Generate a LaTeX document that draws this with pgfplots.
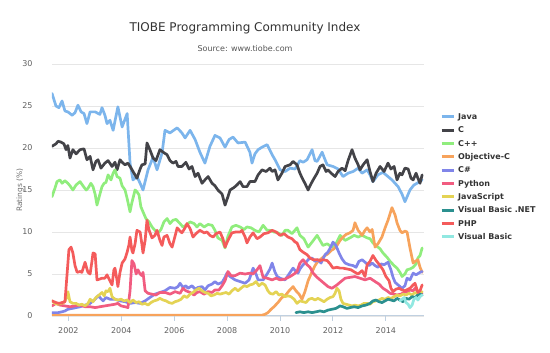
\documentclass[border=0pt]{standalone}
\usepackage{pgfplots}
\pgfplotsset{compat=1.18}
\usepackage{fontspec}
\setmainfont{DejaVu Sans}
\definecolor{cjava}{HTML}{7CB5EC}
\definecolor{cc}{HTML}{434348}
\definecolor{ccpp}{HTML}{90ED7D}
\definecolor{cobjc}{HTML}{F7A35C}
\definecolor{ccs}{HTML}{8085E9}
\definecolor{cpy}{HTML}{F15C80}
\definecolor{cjs}{HTML}{E4D354}
\definecolor{cvbnet}{HTML}{2B908F}
\definecolor{cphp}{HTML}{F45B5B}
\definecolor{cvb}{HTML}{91E8E1}
\definecolor{gridc}{HTML}{E6E6E6}
\definecolor{axisc}{HTML}{C0D0E0}
\definecolor{tickc}{HTML}{606060}
\definecolor{titlec}{HTML}{333333}
\definecolor{subc}{HTML}{555555}
\definecolor{labc}{HTML}{707070}
\begin{document}
\begin{tikzpicture}
\path[use as bounding box] (0pt,0pt) rectangle (550pt,353pt);
\begin{axis}[
  at={(52pt,37pt)}, anchor=south west,
  scale only axis, width=372pt, height=252pt,
  xmin=2001.38, xmax=2015.44, ymin=0, ymax=30,
  xtick={2002,2004,2006,2008,2010,2012,2014},
  ytick={0,5,10,15,20,25,30},
  axis x line*=bottom, axis y line*=left,
  y axis line style={draw=none},
  x axis line style={draw=axisc, line width=1pt},
  tick align=outside, major tick length=5pt,
  xtick style={draw=axisc, line width=1pt},
  ytick style={draw=none},
  ymajorgrids, major grid style={draw=gridc, line width=0.8pt},
  /pgf/number format/assume math mode=true,
  /pgf/number format/1000 sep={},
  tick label style={font=\fontsize{8}{9.6}\selectfont, text=tickc},
  xticklabel style={yshift=-3pt},
  yticklabel style={xshift=-11pt},
  ylabel={Ratings (\%)},
  ylabel style={at={(axis description cs:-0.086,0.5)}, anchor=center, font=\fontsize{7.5}{9}\selectfont, text=labc},
  every axis plot/.append style={line width=2.7pt, line join=round, line cap=round, mark=none},
  legend cell align=left,
  legend style={at={(axis description cs:1.043,0.804)}, anchor=north west, draw=none, fill=none, inner sep=0pt, row sep=5.83pt, column sep=3pt, font=\fontsize{8}{9.6}\selectfont\bfseries, text=titlec, nodes={inner sep=0pt, text height=6pt, text depth=1.5pt}},
  legend image code/.code={\draw[#1, line width=3pt, line cap=butt] (0pt,0.5pt) -- (12pt,0.5pt);},
]
% Java
\addplot[cjava] coordinates {(2001.38,26.5)(2001.53,25.0)(2001.64,24.8)(2001.76,25.6)(2001.87,24.4)(2001.98,24.3)(2002.14,23.9)(2002.25,24.2)(2002.36,25.1)(2002.48,24.3)(2002.59,24.1)(2002.70,22.9)(2002.82,24.3)(2003.01,24.3)(2003.19,24.0)(2003.27,24.8)(2003.38,23.9)(2003.46,22.9)(2003.57,23.3)(2003.69,22.1)(2003.87,24.9)(2004.03,22.5)(2004.22,24.1)(2004.33,18.2)(2004.44,16.2)(2004.59,16.6)(2004.71,15.8)(2004.82,15.0)(2005.01,17.4)(2005.20,18.9)(2005.35,17.4)(2005.54,19.4)(2005.65,22.1)(2005.84,21.8)(2006.11,22.4)(2006.29,21.8)(2006.41,21.2)(2006.60,22.1)(2006.79,21.0)(2006.97,19.5)(2007.16,18.2)(2007.35,20.2)(2007.54,21.5)(2007.73,21.2)(2007.92,20.1)(2008.07,21.0)(2008.22,21.3)(2008.41,20.6)(2008.68,20.7)(2008.86,19.5)(2008.94,18.2)(2009.05,19.3)(2009.17,19.8)(2009.32,20.1)(2009.51,20.4)(2009.70,19.2)(2009.81,18.6)(2010.00,17.4)(2010.19,17.2)(2010.38,17.6)(2010.57,17.5)(2010.75,18.5)(2010.87,18.3)(2011.02,18.6)(2011.21,19.8)(2011.32,18.5)(2011.40,18.4)(2011.59,19.5)(2011.70,18.6)(2011.78,18.0)(2012.00,17.8)(2012.19,17.5)(2012.38,16.6)(2012.57,17.0)(2012.76,17.2)(2012.95,17.6)(2013.10,17.0)(2013.29,17.4)(2013.40,16.8)(2013.51,16.0)(2013.70,16.8)(2013.89,17.1)(2014.08,16.6)(2014.23,16.2)(2014.46,15.4)(2014.61,14.5)(2014.72,13.6)(2014.91,15.0)(2015.06,15.6)(2015.18,15.8)(2015.37,16.2)};
\addlegendentry{Java}
% C
\addplot[cc] coordinates {(2001.38,20.2)(2001.53,20.5)(2001.61,20.8)(2001.72,20.7)(2001.83,20.5)(2001.91,19.8)(2001.98,20.3)(2002.06,18.8)(2002.17,19.8)(2002.29,19.3)(2002.44,19.8)(2002.59,19.9)(2002.70,18.6)(2002.82,19.0)(2002.93,17.4)(2003.04,18.4)(2003.12,18.6)(2003.23,17.6)(2003.38,18.2)(2003.50,18.5)(2003.65,17.8)(2003.76,18.3)(2003.84,17.4)(2003.95,18.6)(2004.03,18.3)(2004.14,18.0)(2004.25,18.2)(2004.37,17.6)(2004.48,17.0)(2004.59,16.4)(2004.71,17.5)(2004.78,18.0)(2004.90,18.1)(2004.97,20.6)(2005.08,19.8)(2005.20,18.8)(2005.31,18.5)(2005.46,19.8)(2005.58,19.5)(2005.73,19.2)(2005.84,18.5)(2005.95,18.2)(2006.07,18.4)(2006.14,17.8)(2006.29,17.8)(2006.44,18.3)(2006.56,17.5)(2006.67,17.8)(2006.79,16.6)(2006.90,17.0)(2007.05,15.8)(2007.16,16.2)(2007.28,16.6)(2007.43,15.8)(2007.54,15.5)(2007.65,15.0)(2007.81,14.5)(2007.92,13.2)(2008.03,14.2)(2008.11,15.0)(2008.26,15.3)(2008.37,15.6)(2008.49,16.0)(2008.60,15.4)(2008.75,15.4)(2008.86,16.0)(2009.05,16.0)(2009.17,16.8)(2009.32,17.4)(2009.47,17.2)(2009.62,17.6)(2009.70,17.2)(2009.81,17.4)(2009.92,16.2)(2010.07,17.0)(2010.19,17.8)(2010.38,18.0)(2010.49,18.4)(2010.64,18.0)(2010.75,17.0)(2010.87,16.2)(2010.94,15.8)(2011.06,15.0)(2011.13,15.5)(2011.25,16.2)(2011.40,17.0)(2011.51,17.8)(2011.62,18.0)(2011.74,17.2)(2011.81,17.4)(2011.93,17.0)(2012.08,16.6)(2012.19,17.2)(2012.34,17.6)(2012.46,17.3)(2012.57,18.5)(2012.72,19.8)(2012.83,18.8)(2012.95,18.0)(2013.02,17.4)(2013.14,18.0)(2013.29,18.6)(2013.40,17.2)(2013.51,16.0)(2013.63,17.0)(2013.78,17.8)(2013.93,17.2)(2014.08,18.2)(2014.19,17.5)(2014.31,17.8)(2014.42,16.2)(2014.53,17.0)(2014.61,16.8)(2014.72,17.6)(2014.84,17.5)(2014.95,16.4)(2015.03,16.2)(2015.14,17.0)(2015.21,16.4)(2015.29,15.8)(2015.37,16.8)};
\addlegendentry{C}
% C++
\addplot[ccpp] coordinates {(2001.38,14.2)(2001.49,15.2)(2001.57,16.0)(2001.68,16.2)(2001.76,15.8)(2001.87,16.1)(2001.98,15.8)(2002.06,15.5)(2002.17,15.0)(2002.29,15.6)(2002.44,16.0)(2002.55,15.5)(2002.67,15.0)(2002.74,15.2)(2002.85,15.8)(2002.93,15.4)(2003.01,14.5)(2003.08,13.2)(2003.19,14.5)(2003.27,15.4)(2003.35,15.8)(2003.42,15.9)(2003.50,16.8)(2003.61,16.2)(2003.69,17.0)(2003.76,17.4)(2003.84,16.6)(2003.95,16.4)(2004.03,15.5)(2004.14,15.0)(2004.22,14.0)(2004.33,12.4)(2004.40,13.5)(2004.52,15.0)(2004.59,14.8)(2004.67,14.4)(2004.74,13.0)(2004.82,12.4)(2004.93,11.6)(2005.05,11.2)(2005.16,10.6)(2005.27,10.2)(2005.39,9.9)(2005.50,10.3)(2005.61,11.2)(2005.73,11.6)(2005.84,11.0)(2005.95,11.4)(2006.07,11.5)(2006.22,11.0)(2006.33,10.6)(2006.44,10.8)(2006.60,11.2)(2006.75,11.0)(2006.86,10.6)(2006.97,11.0)(2007.13,10.6)(2007.28,10.9)(2007.43,10.8)(2007.54,10.2)(2007.65,9.3)(2007.81,9.0)(2007.92,8.1)(2008.03,9.5)(2008.18,10.6)(2008.33,10.8)(2008.49,10.6)(2008.64,10.3)(2008.75,10.6)(2008.90,10.5)(2009.05,10.2)(2009.20,10.0)(2009.36,10.8)(2009.51,10.2)(2009.62,10.2)(2009.77,10.0)(2009.92,9.9)(2010.07,9.6)(2010.19,10.2)(2010.30,10.2)(2010.45,9.8)(2010.64,10.5)(2010.75,9.6)(2010.90,9.2)(2011.06,8.2)(2011.21,8.8)(2011.40,9.6)(2011.51,9.0)(2011.62,8.4)(2011.78,8.6)(2011.96,8.2)(2012.11,8.6)(2012.27,9.6)(2012.46,9.0)(2012.64,9.3)(2012.80,9.6)(2012.95,9.4)(2013.10,9.6)(2013.29,9.3)(2013.40,9.2)(2013.51,8.7)(2013.66,8.3)(2013.78,8.0)(2013.89,7.5)(2014.04,7.0)(2014.16,6.5)(2014.31,6.0)(2014.42,5.7)(2014.53,5.2)(2014.61,4.7)(2014.72,5.0)(2014.80,5.5)(2014.91,5.6)(2015.03,5.8)(2015.14,6.2)(2015.21,6.9)(2015.29,7.2)(2015.37,8.1)};
\addlegendentry{C++}
% Objective-C
\addplot[cobjc] coordinates {(2001.38,0.1)(2009.32,0.1)(2009.43,0.2)(2009.54,0.4)(2009.66,0.8)(2009.77,1.1)(2009.92,1.6)(2010.07,2.2)(2010.19,2.4)(2010.34,3.0)(2010.49,3.5)(2010.60,3.0)(2010.72,2.6)(2010.83,2.0)(2010.94,2.9)(2011.06,4.2)(2011.17,5.0)(2011.32,6.0)(2011.43,6.5)(2011.55,6.8)(2011.70,7.2)(2011.81,7.4)(2011.93,7.8)(2012.04,8.0)(2012.15,8.4)(2012.27,9.0)(2012.38,9.4)(2012.49,9.7)(2012.64,9.9)(2012.76,10.2)(2012.83,11.1)(2012.95,10.2)(2013.10,9.6)(2013.21,10.2)(2013.29,10.5)(2013.40,10.0)(2013.48,10.3)(2013.59,8.2)(2013.70,8.6)(2013.85,9.4)(2013.97,10.5)(2014.08,11.4)(2014.23,12.9)(2014.35,12.0)(2014.42,11.1)(2014.53,10.2)(2014.61,9.9)(2014.72,10.1)(2014.80,10.0)(2014.91,8.1)(2015.03,6.3)(2015.10,6.5)(2015.21,6.7)(2015.29,5.8)(2015.37,5.2)};
\addlegendentry{Objective-C}
% C#
\addplot[ccs] coordinates {(2001.38,0.4)(2001.61,0.4)(2001.76,0.5)(2001.87,0.6)(2001.98,0.8)(2002.14,0.9)(2002.29,1.0)(2002.44,1.1)(2002.63,1.3)(2002.82,1.5)(2003.01,2.0)(2003.12,2.4)(2003.19,2.2)(2003.31,1.8)(2003.42,2.2)(2003.57,2.0)(2003.76,2.0)(2003.95,1.8)(2004.14,1.7)(2004.33,1.5)(2004.52,1.6)(2004.71,1.5)(2004.90,1.8)(2005.08,2.2)(2005.27,2.6)(2005.46,2.8)(2005.65,3.0)(2005.84,3.4)(2006.03,3.3)(2006.14,3.5)(2006.22,3.9)(2006.33,3.4)(2006.44,3.6)(2006.52,3.3)(2006.67,3.6)(2006.79,3.2)(2006.90,3.4)(2007.05,3.5)(2007.16,3.1)(2007.28,3.6)(2007.43,3.8)(2007.54,4.1)(2007.65,3.8)(2007.81,4.0)(2007.92,4.6)(2007.99,5.1)(2008.11,4.7)(2008.30,4.3)(2008.49,4.1)(2008.68,3.9)(2008.83,4.3)(2008.98,5.7)(2009.09,5.0)(2009.17,4.3)(2009.36,4.3)(2009.51,5.0)(2009.62,5.6)(2009.70,6.3)(2009.81,5.2)(2009.89,4.7)(2010.00,4.5)(2010.19,4.3)(2010.34,5.0)(2010.49,5.7)(2010.60,5.3)(2010.68,5.1)(2010.75,5.6)(2010.87,6.1)(2010.98,6.4)(2011.09,6.8)(2011.21,6.9)(2011.32,6.5)(2011.43,6.7)(2011.55,6.3)(2011.70,7.3)(2011.81,7.6)(2011.93,8.3)(2012.00,8.8)(2012.11,8.4)(2012.23,7.5)(2012.34,6.8)(2012.46,6.3)(2012.61,6.1)(2012.76,6.0)(2012.87,5.8)(2012.98,6.5)(2013.10,6.7)(2013.25,6.3)(2013.36,6.0)(2013.48,6.3)(2013.59,6.0)(2013.70,5.8)(2013.82,6.2)(2013.93,6.1)(2014.08,6.4)(2014.19,5.5)(2014.27,4.6)(2014.35,4.0)(2014.46,3.7)(2014.61,3.3)(2014.72,3.6)(2014.80,4.5)(2014.91,4.3)(2015.03,5.1)(2015.14,4.9)(2015.29,5.2)(2015.37,5.3)};
\addlegendentry{C\#}
% Python
\addplot[cpy] coordinates {(2001.38,1.2)(2001.53,1.5)(2001.68,1.3)(2001.87,1.2)(2002.06,1.1)(2002.25,1.2)(2002.44,1.3)(2002.63,1.1)(2002.82,1.1)(2003.01,1.0)(2003.19,1.1)(2003.38,1.2)(2003.57,1.3)(2003.76,1.4)(2003.87,1.5)(2003.99,1.2)(2004.14,1.1)(2004.25,1.0)(2004.33,3.0)(2004.40,6.6)(2004.48,6.2)(2004.56,5.0)(2004.63,5.5)(2004.71,5.0)(2004.78,4.8)(2004.82,5.2)(2004.90,3.0)(2005.01,2.7)(2005.16,2.6)(2005.31,2.5)(2005.46,2.8)(2005.65,2.8)(2005.84,2.6)(2006.03,2.9)(2006.22,2.7)(2006.33,3.3)(2006.44,3.0)(2006.60,2.8)(2006.75,2.5)(2006.86,2.8)(2006.97,2.9)(2007.13,2.6)(2007.28,2.9)(2007.43,2.8)(2007.54,3.1)(2007.69,3.1)(2007.81,3.6)(2007.92,4.2)(2008.03,5.3)(2008.15,4.8)(2008.30,4.8)(2008.49,5.1)(2008.68,5.0)(2008.86,5.1)(2008.98,5.0)(2009.13,5.5)(2009.24,6.0)(2009.36,4.6)(2009.51,4.5)(2009.70,4.3)(2009.85,4.5)(2010.00,4.3)(2010.19,4.4)(2010.38,4.7)(2010.53,5.0)(2010.64,5.3)(2010.75,6.3)(2010.87,6.7)(2011.02,6.1)(2011.13,5.8)(2011.25,5.1)(2011.40,4.6)(2011.51,4.3)(2011.66,3.9)(2011.81,3.5)(2011.96,3.3)(2012.15,3.7)(2012.30,4.1)(2012.46,4.5)(2012.64,4.6)(2012.83,4.7)(2013.02,4.5)(2013.21,4.3)(2013.40,4.5)(2013.59,4.1)(2013.74,3.8)(2013.89,3.3)(2014.04,3.0)(2014.16,2.7)(2014.31,2.6)(2014.42,2.5)(2014.57,2.6)(2014.69,2.8)(2014.80,2.9)(2014.91,3.1)(2015.03,3.0)(2015.10,3.3)(2015.21,2.9)(2015.29,2.6)(2015.37,2.7)};
\addlegendentry{Python}
% JavaScript
\addplot[cjs] coordinates {(2001.38,1.8)(2001.49,1.5)(2001.61,1.4)(2001.72,1.5)(2001.83,1.6)(2001.91,2.0)(2001.98,2.9)(2002.06,1.7)(2002.17,1.5)(2002.29,1.5)(2002.40,1.3)(2002.51,1.4)(2002.63,1.2)(2002.74,1.5)(2002.82,2.0)(2002.93,1.7)(2003.04,2.2)(2003.16,2.5)(2003.27,2.8)(2003.35,2.4)(2003.42,3.0)(2003.50,2.9)(2003.57,3.3)(2003.65,2.3)(2003.76,2.0)(2003.87,1.9)(2003.99,2.0)(2004.10,1.8)(2004.22,1.9)(2004.33,1.6)(2004.44,1.9)(2004.56,1.6)(2004.67,1.7)(2004.78,1.4)(2004.90,1.5)(2005.01,1.3)(2005.12,1.6)(2005.24,1.8)(2005.35,1.9)(2005.46,2.1)(2005.58,1.9)(2005.69,1.8)(2005.80,1.6)(2005.92,1.5)(2006.03,1.7)(2006.14,1.8)(2006.26,2.0)(2006.37,2.4)(2006.48,2.2)(2006.60,2.6)(2006.71,2.8)(2006.82,3.1)(2006.94,3.3)(2007.05,3.0)(2007.16,2.8)(2007.28,2.7)(2007.39,2.4)(2007.50,2.5)(2007.62,2.7)(2007.73,2.6)(2007.84,2.7)(2007.96,2.8)(2008.07,2.6)(2008.18,3.0)(2008.30,3.3)(2008.41,3.0)(2008.52,3.3)(2008.64,3.6)(2008.75,3.5)(2008.86,3.7)(2008.98,3.8)(2009.09,4.1)(2009.20,3.6)(2009.32,3.9)(2009.43,3.7)(2009.54,3.0)(2009.62,2.7)(2009.73,2.6)(2009.85,2.9)(2009.96,2.5)(2010.07,2.6)(2010.19,2.3)(2010.30,2.4)(2010.41,2.3)(2010.53,2.0)(2010.64,1.5)(2010.75,1.8)(2010.87,1.7)(2010.98,1.6)(2011.09,2.0)(2011.21,2.1)(2011.32,1.9)(2011.43,2.1)(2011.55,1.9)(2011.66,1.7)(2011.78,2.0)(2011.89,2.2)(2012.00,2.3)(2012.08,2.7)(2012.15,3.3)(2012.23,3.0)(2012.30,2.0)(2012.38,1.5)(2012.49,1.4)(2012.61,1.3)(2012.72,1.2)(2012.83,1.3)(2012.95,1.2)(2013.06,1.3)(2013.17,1.5)(2013.29,1.5)(2013.40,1.4)(2013.51,1.7)(2013.63,1.8)(2013.74,1.9)(2013.85,2.1)(2013.97,2.0)(2014.08,2.2)(2014.19,2.1)(2014.31,2.3)(2014.42,2.5)(2014.53,2.4)(2014.65,2.6)(2014.76,2.5)(2014.87,2.7)(2014.99,2.5)(2015.10,2.8)(2015.21,2.6)(2015.29,2.8)(2015.37,2.9)};
\addlegendentry{JavaScript}
% Visual Basic .NET
\addplot[cvbnet] coordinates {(2010.60,0.4)(2010.75,0.5)(2010.90,0.4)(2011.06,0.5)(2011.21,0.4)(2011.36,0.5)(2011.51,0.6)(2011.66,0.5)(2011.81,0.7)(2011.96,0.8)(2012.11,0.9)(2012.27,1.2)(2012.38,1.1)(2012.53,0.9)(2012.64,1.0)(2012.80,1.1)(2012.95,1.0)(2013.10,1.2)(2013.25,1.3)(2013.40,1.5)(2013.51,1.8)(2013.63,1.9)(2013.74,1.7)(2013.85,1.6)(2013.97,1.8)(2014.08,2.0)(2014.19,1.9)(2014.31,1.8)(2014.42,2.1)(2014.53,1.9)(2014.65,1.7)(2014.76,2.1)(2014.87,2.0)(2014.99,2.3)(2015.10,2.2)(2015.21,2.5)(2015.29,2.6)(2015.37,2.5)};
\addlegendentry{Visual Basic .NET}
% PHP
\addplot[cphp] coordinates {(2001.38,1.8)(2001.53,1.6)(2001.64,1.5)(2001.76,1.6)(2001.87,1.7)(2001.95,5.0)(2002.02,7.9)(2002.10,8.2)(2002.17,7.5)(2002.25,6.0)(2002.33,5.2)(2002.44,5.3)(2002.51,5.2)(2002.59,6.0)(2002.63,6.4)(2002.70,5.6)(2002.74,5.2)(2002.82,5.0)(2002.89,6.5)(2002.93,7.5)(2003.01,7.4)(2003.08,4.3)(2003.19,4.4)(2003.27,4.5)(2003.38,4.5)(2003.46,4.9)(2003.57,4.2)(2003.65,3.7)(2003.72,5.5)(2003.76,5.7)(2003.84,4.2)(2003.87,3.5)(2003.95,5.2)(2004.03,6.3)(2004.14,6.8)(2004.22,7.6)(2004.29,8.5)(2004.33,9.4)(2004.40,7.8)(2004.44,7.5)(2004.52,8.6)(2004.59,10.2)(2004.71,10.0)(2004.78,8.5)(2004.82,7.5)(2004.90,9.0)(2004.97,11.4)(2005.05,10.2)(2005.16,9.3)(2005.27,9.6)(2005.35,10.2)(2005.46,9.0)(2005.54,8.4)(2005.61,9.4)(2005.73,9.6)(2005.84,8.6)(2005.92,8.2)(2006.03,9.5)(2006.11,10.5)(2006.22,10.1)(2006.29,9.9)(2006.41,10.5)(2006.48,11.0)(2006.60,10.4)(2006.71,9.4)(2006.82,9.8)(2006.97,10.2)(2007.13,9.9)(2007.24,10.0)(2007.35,9.6)(2007.47,9.4)(2007.58,9.8)(2007.73,10.0)(2007.84,9.2)(2007.92,8.2)(2008.03,9.0)(2008.18,9.9)(2008.33,10.0)(2008.49,10.0)(2008.56,10.2)(2008.68,9.4)(2008.75,8.7)(2008.86,9.4)(2008.98,9.9)(2009.13,9.2)(2009.24,9.4)(2009.39,9.8)(2009.54,9.9)(2009.70,10.2)(2009.85,10.0)(2010.00,9.6)(2010.15,9.8)(2010.30,9.4)(2010.45,9.2)(2010.57,8.8)(2010.64,8.7)(2010.75,7.9)(2010.87,7.6)(2011.02,7.3)(2011.13,6.9)(2011.25,6.7)(2011.40,6.7)(2011.51,6.6)(2011.62,6.7)(2011.78,6.6)(2011.89,6.2)(2012.00,5.7)(2012.15,5.8)(2012.27,5.7)(2012.38,5.7)(2012.53,5.6)(2012.68,5.5)(2012.83,5.2)(2012.95,5.0)(2013.10,5.4)(2013.21,4.7)(2013.29,6.1)(2013.40,6.5)(2013.51,7.2)(2013.63,6.6)(2013.78,6.0)(2013.89,5.5)(2014.00,4.7)(2014.12,4.2)(2014.19,3.3)(2014.27,2.9)(2014.38,3.2)(2014.50,3.3)(2014.61,3.1)(2014.72,3.0)(2014.84,3.2)(2014.91,3.3)(2015.03,3.7)(2015.10,3.9)(2015.21,2.8)(2015.29,3.0)(2015.37,3.7)};
\addlegendentry{PHP}
% Visual Basic
\addplot[cvb] coordinates {(2014.53,1.8)(2014.61,2.0)(2014.69,2.2)(2014.76,1.6)(2014.84,1.4)(2014.91,1.0)(2014.99,1.3)(2015.06,2.0)(2015.14,2.2)(2015.21,1.9)(2015.29,2.3)(2015.37,2.5)};
\addlegendentry{Visual Basic}
\end{axis}
\node[font=\fontsize{12}{14}\selectfont, text=titlec] at (245pt,325pt) {TIOBE Programming Community Index};
\node[font=\fontsize{8}{10}\selectfont, text=subc] at (245pt,304pt) {Source: www.tiobe.com};
\end{tikzpicture}
\end{document}
